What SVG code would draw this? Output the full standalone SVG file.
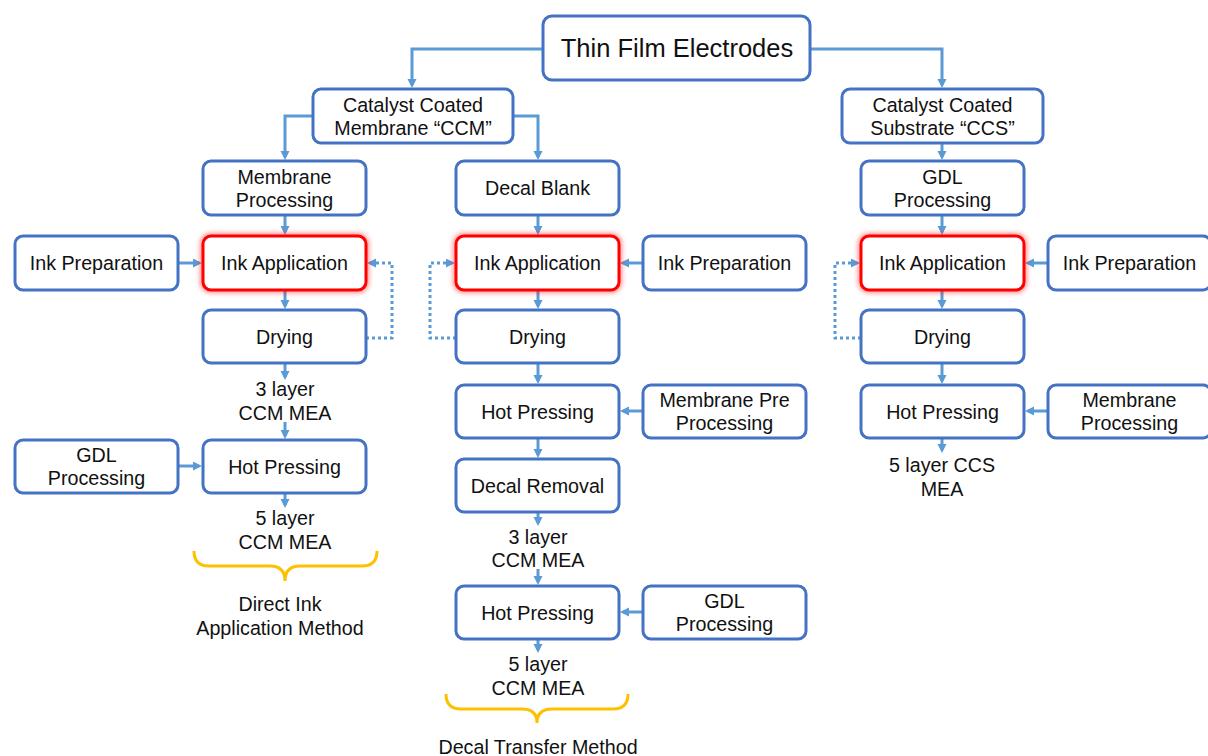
<svg xmlns="http://www.w3.org/2000/svg" width="1208" height="756" viewBox="0 0 1208 756">
<defs>
<style>
.box{fill:#fff;stroke:#4472C4;stroke-width:3}
.red{fill:#fff;stroke:#FF0000;stroke-width:3}
.glow{fill:none;stroke:#FF0000;stroke-width:6;opacity:0.45}
.t{font-family:"Liberation Sans",Arial,sans-serif;font-size:19.7px;fill:#111;text-anchor:middle}
.big{font-size:25.5px}
.c{fill:none;stroke:#5B9BD5;stroke-width:3;marker-end:url(#ah)}
.d{fill:none;stroke:#5B9BD5;stroke-width:3;stroke-dasharray:3 3;marker-end:url(#ah)}
.br{fill:none;stroke:#FFC000;stroke-width:3}
</style>
<marker id="ah" markerUnits="userSpaceOnUse" markerWidth="10" markerHeight="10" refX="6" refY="4.5" orient="auto">
<path d="M0,0 L9,4.5 L0,9 z" fill="#5B9BD5"/>
</marker>
<filter id="blur" x="-20%" y="-30%" width="140%" height="160%">
<feGaussianBlur stdDeviation="2.5"/>
</filter>
</defs>
<rect width="1208" height="756" fill="#fff"/>

<g id="connectors">
<path class="c" d="M543,49 H412 V85"/>
<path class="c" d="M810,49 H942 V85"/>
<path class="c" d="M313,116 H285 V157"/>
<path class="c" d="M513,116 H538 V157"/>
<path class="c" d="M942,143 V157"/>
<path class="c" d="M285,215 V232"/>
<path class="c" d="M538,215 V232"/>
<path class="c" d="M942,215 V232"/>
<path class="c" d="M178,263 H199"/>
<path class="c" d="M643,263 H623"/>
<path class="c" d="M1048,263 H1028"/>
<path class="c" d="M285,290 V306"/>
<path class="c" d="M538,290 V306"/>
<path class="c" d="M942,290 V306"/>
<path class="d" d="M366,338 H392 V263 H370"/>
<path class="d" d="M456,338 H430 V263 H452"/>
<path class="d" d="M861,338 H835 V263 H857"/>
<path class="c" d="M285,363 V377"/>
<path class="c" d="M285,422 V436"/>
<path class="c" d="M178,466 H199"/>
<path class="c" d="M285,493 V505"/>
<path class="c" d="M538,363 V381"/>
<path class="c" d="M643,411 H623"/>
<path class="c" d="M538,438 V455"/>
<path class="c" d="M538,512 V523"/>
<path class="c" d="M538,569 V582"/>
<path class="c" d="M643,612 H623"/>
<path class="c" d="M538,639 V650"/>
<path class="c" d="M942,363 V381"/>
<path class="c" d="M1048,411 H1028"/>
<path class="c" d="M942,438 V450"/>
</g>

<g id="thin-film"><rect class="box" x="543" y="16" width="267" height="64" rx="9"/><text class="t big" x="677" y="57">Thin Film Electrodes</text></g>
<g id="ccm"><rect class="box" x="313" y="89" width="200" height="54" rx="8"/><text class="t" x="413" y="112">Catalyst Coated</text><text class="t" x="413" y="135">Membrane “CCM”</text></g>
<g id="ccs"><rect class="box" x="842" y="89" width="201" height="54" rx="8"/><text class="t" x="942.5" y="112">Catalyst Coated</text><text class="t" x="942.5" y="135">Substrate “CCS”</text></g>

<g id="membrane-processing"><rect class="box" x="203" y="161" width="163" height="54" rx="8"/><text class="t" x="284.5" y="183.5">Membrane</text><text class="t" x="284.5" y="206.5">Processing</text></g>
<g id="decal-blank"><rect class="box" x="456" y="161" width="163" height="54" rx="8"/><text class="t" x="537.5" y="195">Decal Blank</text></g>
<g id="gdl-processing-r"><rect class="box" x="861" y="161" width="163" height="54" rx="8"/><text class="t" x="942.5" y="183.5">GDL</text><text class="t" x="942.5" y="206.5">Processing</text></g>

<g id="ink-prep-l"><rect class="box" x="15" y="236" width="163" height="54" rx="8"/><text class="t" x="96.5" y="270">Ink Preparation</text></g>
<g id="ink-app-l"><rect class="glow" x="203" y="236" width="163" height="54" rx="8" filter="url(#blur)"/><rect class="red" x="203" y="236" width="163" height="54" rx="8"/><text class="t" x="284.5" y="270">Ink Application</text></g>
<g id="ink-app-m"><rect class="glow" x="456" y="236" width="163" height="54" rx="8" filter="url(#blur)"/><rect class="red" x="456" y="236" width="163" height="54" rx="8"/><text class="t" x="537.5" y="270">Ink Application</text></g>
<g id="ink-prep-m"><rect class="box" x="643" y="236" width="163" height="54" rx="8"/><text class="t" x="724.5" y="270">Ink Preparation</text></g>
<g id="ink-app-r"><rect class="glow" x="861" y="236" width="163" height="54" rx="8" filter="url(#blur)"/><rect class="red" x="861" y="236" width="163" height="54" rx="8"/><text class="t" x="942.5" y="270">Ink Application</text></g>
<g id="ink-prep-r"><rect class="box" x="1048" y="236" width="163" height="54" rx="8"/><text class="t" x="1129.5" y="270">Ink Preparation</text></g>

<g id="drying-l"><rect class="box" x="203" y="310" width="163" height="53" rx="8"/><text class="t" x="284.5" y="343.5">Drying</text></g>
<g id="drying-m"><rect class="box" x="456" y="310" width="163" height="53" rx="8"/><text class="t" x="537.5" y="343.5">Drying</text></g>
<g id="drying-r"><rect class="box" x="861" y="310" width="163" height="53" rx="8"/><text class="t" x="942.5" y="343.5">Drying</text></g>

<g id="hot-pressing-m1"><rect class="box" x="456" y="385" width="163" height="53" rx="8"/><text class="t" x="537.5" y="418.5">Hot Pressing</text></g>
<g id="membrane-pre"><rect class="box" x="643" y="385" width="163" height="53" rx="8"/><text class="t" x="724.5" y="406.5">Membrane Pre</text><text class="t" x="724.5" y="430">Processing</text></g>
<g id="hot-pressing-r"><rect class="box" x="861" y="385" width="163" height="53" rx="8"/><text class="t" x="942.5" y="418.5">Hot Pressing</text></g>
<g id="membrane-processing-r"><rect class="box" x="1048" y="385" width="163" height="53" rx="8"/><text class="t" x="1129.5" y="406.5">Membrane</text><text class="t" x="1129.5" y="430">Processing</text></g>

<g id="gdl-processing-l"><rect class="box" x="15" y="440" width="163" height="53" rx="8"/><text class="t" x="96.5" y="461.5">GDL</text><text class="t" x="96.5" y="485">Processing</text></g>
<g id="hot-pressing-l"><rect class="box" x="203" y="440" width="163" height="53" rx="8"/><text class="t" x="284.5" y="473.5">Hot Pressing</text></g>
<g id="decal-removal"><rect class="box" x="456" y="459" width="163" height="53" rx="8"/><text class="t" x="537.5" y="492.5">Decal Removal</text></g>
<g id="hot-pressing-m2"><rect class="box" x="456" y="586" width="163" height="53" rx="8"/><text class="t" x="537.5" y="619.5">Hot Pressing</text></g>
<g id="gdl-processing-m"><rect class="box" x="643" y="586" width="163" height="53" rx="8"/><text class="t" x="724.5" y="607.5">GDL</text><text class="t" x="724.5" y="631">Processing</text></g>

<g id="labels">
<text class="t" x="285" y="396">3 layer</text><text class="t" x="285" y="420">CCM MEA</text>
<text class="t" x="285" y="525">5 layer</text><text class="t" x="285" y="549">CCM MEA</text>
<text class="t" x="538" y="544">3 layer</text><text class="t" x="538" y="567">CCM MEA</text>
<text class="t" x="538" y="671">5 layer</text><text class="t" x="538" y="695">CCM MEA</text>
<text class="t" x="942" y="472">5 layer CCS</text><text class="t" x="942" y="496">MEA</text>
<text class="t" x="280" y="611">Direct Ink</text><text class="t" x="280" y="635">Application Method</text>
<text class="t" x="538" y="754">Decal Transfer Method</text>
</g>

<g id="braces">
<path class="br" d="M194,551 Q194,566 209,566 L270,566 Q285,566 285,581 Q285,566 300,566 L362,566 Q377,566 377,551"/>
<path class="br" d="M446,694 Q446,709 461,709 L522,709 Q537,709 537,723 Q537,709 552,709 L613,709 Q628,709 628,694"/>
</g>
</svg>
